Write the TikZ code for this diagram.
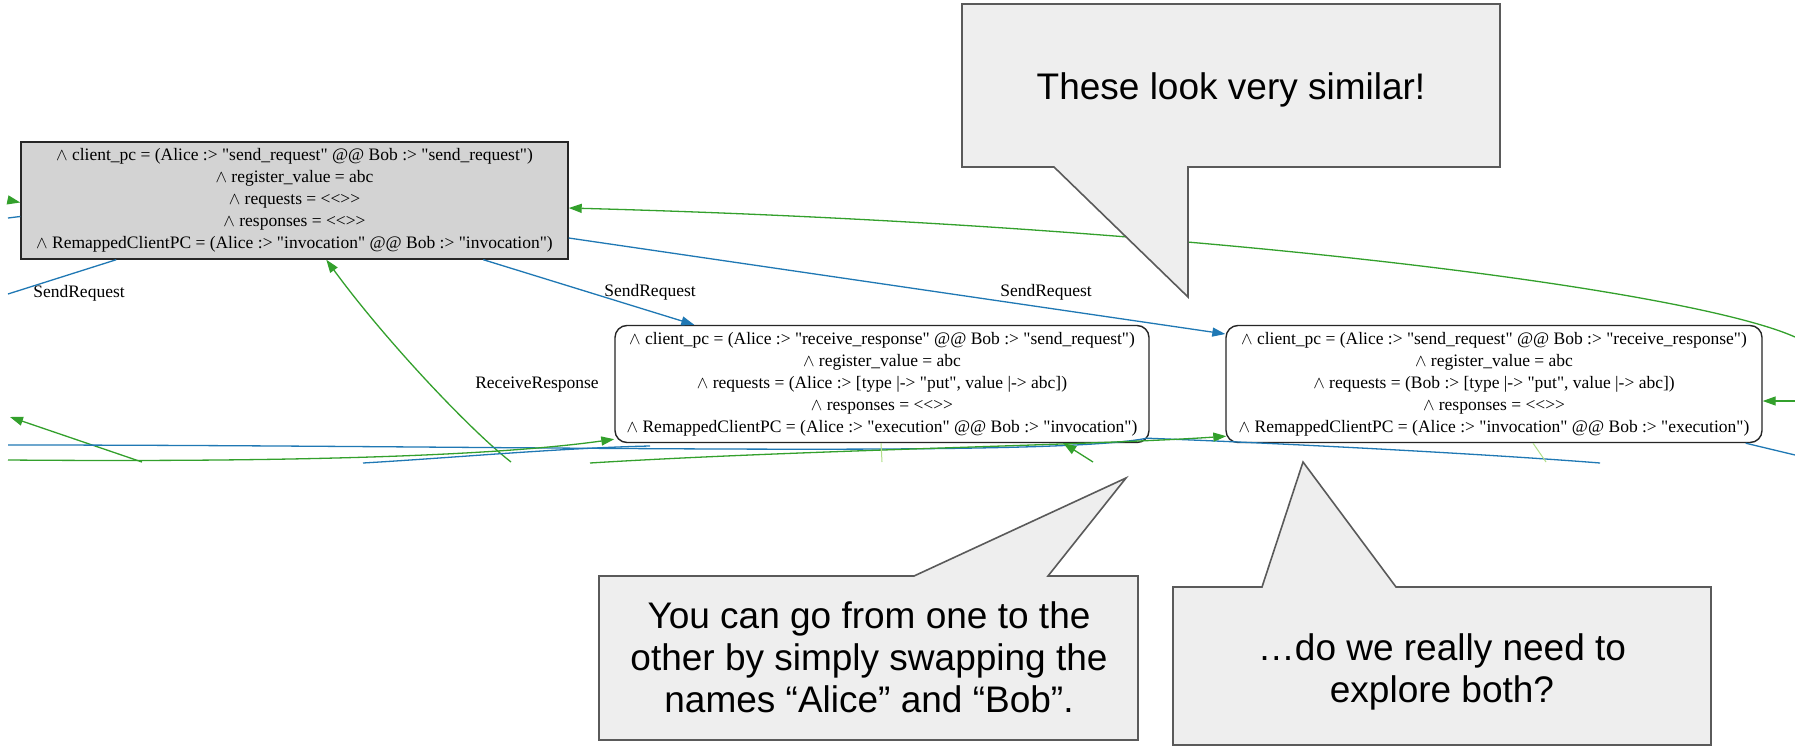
\documentclass[tikz,border=0pt]{standalone}
\usepackage{fontspec}
\usetikzlibrary{arrows.meta,calc}
\newfontfamily\gvfont{Liberation Serif}
\newfontfamily\slidefont{Liberation Sans}
\definecolor{eblue}{HTML}{1F78B4}
\definecolor{egreen}{HTML}{33A02C}
\definecolor{elight}{HTML}{B2DF8A}
\definecolor{initgray}{HTML}{D3D3D3}
\definecolor{calloutfill}{HTML}{EEEEEE}
\definecolor{calloutline}{HTML}{5A5A5A}
\tikzset{
  statebox/.style={draw=black!85, line width=1.4pt, rounded corners=12pt, fill=white,
    align=center, font={\gvfont\fontsize{17.5}{22}\selectfont}, inner sep=0pt,
    minimum height=117pt},
  initbox/.style={statebox, rounded corners=0pt, fill=initgray},
  edgelabel/.style={font={\gvfont\fontsize{17.5}{22}\selectfont}, inner sep=0pt},
  bline/.style={draw=eblue, line width=1.3pt},
  gline/.style={draw=egreen, line width=1.3pt},
  lline/.style={draw=elight, line width=1pt},
  headed/.style={-{Triangle[length=13pt,width=9pt]}},
  callout/.style={fill=calloutfill, draw=calloutline, line width=1.6pt, line join=miter},
  callouttext/.style={font={\slidefont\fontsize{37}{42}\selectfont}, align=center, inner sep=0pt}
}
\begin{document}
\begin{tikzpicture}[x=1pt,y=-1pt]
\useasboundingbox (0,0) rectangle (1795,749);
\fill[white] (0,0) rectangle (1795,749);

% states
\node[initbox, minimum width=547pt] (g) at (294.5,200.5)
  {$\wedge$ client\_pc = (Alice :> "send\_request" @@ Bob :> "send\_request")\\
   $\wedge$ register\_value = abc\\
   $\wedge$ requests = <<>>\\
   $\wedge$ responses = <<>>\\
   $\wedge$ RemappedClientPC = (Alice :> "invocation" @@ Bob :> "invocation")};
\node[statebox, minimum width=534pt] (n2) at (882,384)
  {$\wedge$ client\_pc = (Alice :> "receive\_response" @@ Bob :> "send\_request")\\
   $\wedge$ register\_value = abc\\
   $\wedge$ requests = (Alice :> [type |-> "put", value |-> abc])\\
   $\wedge$ responses = <<>>\\
   $\wedge$ RemappedClientPC = (Alice :> "execution" @@ Bob :> "invocation")};
\node[statebox, minimum width=536pt] (n3) at (1494,384)
  {$\wedge$ client\_pc = (Alice :> "send\_request" @@ Bob :> "receive\_response")\\
   $\wedge$ register\_value = abc\\
   $\wedge$ requests = (Bob :> [type |-> "put", value |-> abc])\\
   $\wedge$ responses = <<>>\\
   $\wedge$ RemappedClientPC = (Alice :> "invocation" @@ Bob :> "execution")};

% edge labels
\node[edgelabel] (l1) at (79,293) {SendRequest};
\node[edgelabel] (l2) at (650,292) {SendRequest};
\node[edgelabel] (l3) at (1046,292) {SendRequest};
\node[edgelabel] (l4) at (537,385) {ReceiveResponse};

% loose ends where edges leave the frame
\coordinate (w1) at (8,218);
\coordinate (w2) at (8,200);
\coordinate (w3) at (8,294);
\coordinate (w4) at (10,417);
\coordinate (w5) at (8,460);
\coordinate (w6) at (8,445);
\coordinate (b1) at (142,462);
\coordinate (b2) at (511,462);
\coordinate (b3) at (363,463);
\coordinate (b4) at (650,446);
\coordinate (b5) at (590,463);
\coordinate (b6) at (1093,462);
\coordinate (b7) at (882,462);
\coordinate (b8) at (1600,463);
\coordinate (b9) at (1546,462);
\coordinate (e1) at (1795,337);
\coordinate (e2) at (1795,401);
\coordinate (e3) at (1795,455);

% edges
\draw[bline] ($(g.west)+(0,16)$) -- (w1);
\draw[gline,headed] (w2) -- ($(g.west)+(0,2)$);
\draw[bline] ($(g.south west)+(96,0)$) -- (w3);
\draw[bline,headed] ($(g.south west)+(463,0)$) -- ($(n2.north west)+(80,0)$);
\draw[bline,headed] ($(g.east)+(0,37.5)$) -- ($(n3.west)+(0,-50)$);
\draw[gline,headed] (e1) .. controls (1690,290) and (1200,225) .. ($(g.east)+(0,7.5)$);
\draw[gline,headed] (b2) .. controls (470,430) and (385,340) .. ($(g.south west)+(306,0)$);
\draw[gline,headed] (b1) -- (w4);
\draw[bline] (w6) .. controls (500,445) and (1050,458) .. ($(n2.south east)+(-3,-5)$);
\draw[bline] ($(n2.south east)+(-3,-5)$) .. controls (1300,444) and (1500,455) .. (b8);
\draw[bline] (b3) .. controls (450,458) and (560,448) .. (b4);
\draw[gline,headed] (w5) .. controls (250,462) and (480,458) .. ($(n2.south west)+(0,-4)$);
\draw[gline,headed] (b5) .. controls (800,450) and (1100,445) .. ($(n3.south west)+(1,-7)$);
\draw[gline,headed] (b6) -- ($(n2.south west)+(449,0)$);
\draw[lline] ($(n2.south)+(-1,0)$) -- (b7);
\draw[lline] ($(n3.south)+(39,0)$) -- (b9);
\draw[gline,headed] (e2) -- ($(n3.east)+(0,17)$);
\draw[bline] ($(n3.south east)+(-17,0)$) -- (e3);

% speech bubbles
\draw[callout] (962,4) -- (1500,4) -- (1500,167) -- (1188,167) -- (1188,297)
  -- (1054,167) -- (962,167) -- cycle;
\node[callouttext] (c1) at (1231,90) {These look very similar!};

\draw[callout] (599,576) -- (914,576) -- (1126,478) -- (1048,576) -- (1138,576)
  -- (1138,740) -- (599,740) -- cycle;
\node[callouttext] (c2) at (869,657)
  {You can go from one to the\\other by simply swapping the\\names “Alice” and “Bob”.};

\draw[callout] (1173,587) -- (1262,587) -- (1303,462) -- (1396,587) -- (1711,587)
  -- (1711,745) -- (1173,745) -- cycle;
\node[callouttext] (c3) at (1442,672) {…do we really need to\\explore both?};
\end{tikzpicture}
\end{document}
